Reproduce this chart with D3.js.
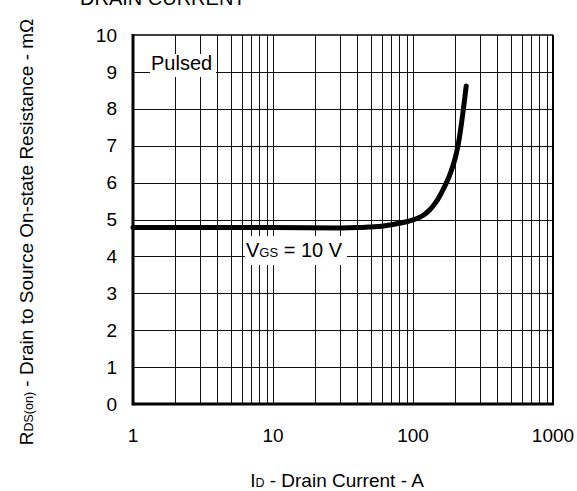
<!DOCTYPE html>
<html>
<head>
<meta charset="utf-8">
<script src="https://cdn.jsdelivr.net/npm/d3@7"></script>
<style>
  body { margin: 0; background: #fff; }
  svg { display: block; font-family: "Liberation Sans", Arial, sans-serif; }
</style>
</head>
<body>
<div id="chart"></div>
<script>
// values
const currentA = [1, 10, 30, 40, 50, 60, 70, 80, 90, 100, 110, 120, 130, 140, 150, 160, 170, 180, 190, 200, 210, 220, 230, 240];
const rdsOn = [4.78, 4.78, 4.77, 4.78, 4.80, 4.82, 4.86, 4.90, 4.94, 4.99, 5.05, 5.13, 5.24, 5.38, 5.54, 5.73, 5.93, 6.14, 6.38, 6.66, 7.02, 7.50, 8.05, 8.62];
const yTicks = [0, 1, 2, 3, 4, 5, 6, 7, 8, 9, 10];
const xTicks = [1, 10, 100, 1000];
const xMinor = [];
[1, 10, 100].forEach(d => { for (let k = 2; k <= 10; k++) xMinor.push(d * k); });

const W = 577, H = 491;
const pLeft = 133, pRight = 553, pTop = 35, pBottom = 404;

const svg = d3.select("#chart").append("svg")
  .attr("width", W)
  .attr("height", H);

const x = d3.scaleLog().domain([1, 1000]).range([pLeft, pRight]);
const y = d3.scaleLinear().domain([0, 10]).range([pBottom, pTop]);

// grid
svg.append("g")
  .selectAll("line")
  .data(xMinor.filter(d => d < 1000))
  .enter().append("line")
  .attr("x1", d => Math.round(x(d)) + 0.5).attr("x2", d => Math.round(x(d)) + 0.5)
  .attr("y1", pTop).attr("y2", pBottom)
  .attr("stroke", "#111").attr("stroke-width", 1);

svg.append("g")
  .selectAll("line")
  .data(yTicks.filter(d => d > 0 && d < 10))
  .enter().append("line")
  .attr("x1", pLeft).attr("x2", pRight)
  .attr("y1", d => Math.round(y(d)) + 0.5).attr("y2", d => Math.round(y(d)) + 0.5)
  .attr("stroke", "#111").attr("stroke-width", 1);

// frame
svg.append("line").attr("x1", pLeft).attr("x2", pRight).attr("y1", pTop).attr("y2", pTop)
  .attr("stroke", "#000").attr("stroke-width", 1.5);
svg.append("line").attr("x1", pRight).attr("x2", pRight).attr("y1", pTop).attr("y2", pBottom)
  .attr("stroke", "#000").attr("stroke-width", 2);
svg.append("line").attr("x1", pLeft).attr("x2", pLeft).attr("y1", pTop - 1).attr("y2", pBottom + 1.5)
  .attr("stroke", "#000").attr("stroke-width", 3);
svg.append("line").attr("x1", pLeft).attr("x2", pRight + 1).attr("y1", pBottom).attr("y2", pBottom)
  .attr("stroke", "#000").attr("stroke-width", 3);

// tick labels
svg.append("g")
  .selectAll("text")
  .data(yTicks)
  .enter().append("text")
  .attr("x", 117)
  .attr("y", d => y(d))
  .attr("dy", "0.35em")
  .attr("text-anchor", "end")
  .attr("font-size", 19)
  .text(d => d);

svg.append("g")
  .selectAll("text")
  .data(xTicks)
  .enter().append("text")
  .attr("x", d => x(d))
  .attr("y", 442)
  .attr("text-anchor", "middle")
  .attr("font-size", 19)
  .text(d => d);

// curve
const line = d3.line()
  .x((d, i) => x(currentA[i]))
  .y(d => y(d))
  .curve(d3.curveCatmullRom.alpha(0.5));

svg.append("path")
  .attr("d", line(rdsOn))
  .attr("fill", "none")
  .attr("stroke", "#000")
  .attr("stroke-width", 5)
  .attr("stroke-linecap", "round")
  .attr("stroke-linejoin", "round");

// boxed labels
svg.append("rect").attr("x", 150).attr("y", 54).attr("width", 66).attr("height", 23).attr("fill", "#fff");
svg.append("text").attr("x", 151).attr("y", 70).attr("font-size", 20).text("Pulsed");

svg.append("rect").attr("x", 245).attr("y", 236).attr("width", 102).attr("height", 29).attr("fill", "#fff");
const vgs = svg.append("text").attr("x", 246).attr("y", 257).attr("font-size", 20);
vgs.append("tspan").text("V");
vgs.append("tspan").attr("font-size", 13).text("GS");
vgs.append("tspan").text(" = 10 V");

// axis titles
const xl = svg.append("text")
  .attr("x", 337).attr("y", 487)
  .attr("text-anchor", "middle")
  .attr("font-size", 19);
xl.append("tspan").text("I");
xl.append("tspan").attr("font-size", 12.5).text("D");
xl.append("tspan").text(" - Drain Current - A");

const yl = svg.append("text")
  .attr("transform", "translate(33,232) rotate(-90)")
  .attr("text-anchor", "middle")
  .attr("font-size", 19);
yl.append("tspan").text("R");
yl.append("tspan").attr("font-size", 12.5).text("DS(on)");
yl.append("tspan").text(" - Drain to Source On-state Resistance - m\u03A9");

// title, cut by the top edge as in the source image
svg.append("text")
  .attr("x", 80).attr("y", 5)
  .attr("font-size", 20)
  .text("DRAIN CURRENT");
</script>
</body>
</html>
